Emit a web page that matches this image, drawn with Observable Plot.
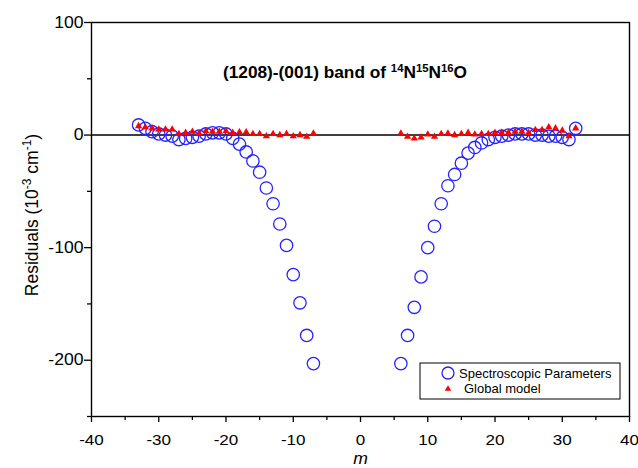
<!DOCTYPE html>
<html>
<head>
<meta charset="utf-8">
<script src="https://cdn.jsdelivr.net/npm/d3@7"></script>
<script src="https://cdn.jsdelivr.net/npm/@observablehq/plot@0.6"></script>
<style>
  html, body { margin: 0; padding: 0; background: #fff; }
  #chart { width: 638px; height: 468px; }
</style>
</head>
<body>
<div id="chart"></div>
<script>
// ---- data ----
const specLeftM = [-33,-32,-31,-30,-29,-28,-27,-26,-25,-24,-23,-22,-21,-20,-19,-18,-17,-16,-15,-14,-13,-12,-11,-10,-9,-8,-7];
const specLeftR = [9,6,3,1,0,-1,-4,-3,-2,-1,1,2,2,1,-3,-8,-15,-23,-33,-47,-61,-79,-98,-124,-149,-178,-203];
const specRightM = [6,7,8,9,10,11,12,13,14,15,16,17,18,19,20,21,22,23,24,25,26,27,28,29,30,31,32];
const specRightR = [-203,-178,-153,-126,-100,-81,-61,-45,-35,-25,-16,-11,-7,-4,-2,-1,0,1,1,1,0,0,-1,-1,-2,-4,6];
const globLeftM = specLeftM;
const globLeftR = [8,7,6,5,5,5,1,2,3,1.5,3.5,3,3,3.5,2,2.5,2.5,1,1,-1,1,0,1,-1,0,-1.5,1.5];
const globRightM = specRightM;
const globRightR = [1.5,-1.5,-3,-2,0.5,-1.5,1,1.5,0,1,2,0.5,1,1,2,2,2,3,3,2,4.5,4.5,7,6,4,-1,6];

const xMajor = [-40,-30,-20,-10,0,10,20,30,40];
const xMinor = [-35,-25,-15,-5,5,15,25,35];
const yMajor = [-200,-100,0,100];
const yMinor = [-250,-150,-50,50];

const seriesNames = ["Spectroscopic Parameters", "Global model"];

// ---- tables ----
const spec = specLeftM.map((m,i)=>({m, r: specLeftR[i]}))
  .concat(specRightM.map((m,i)=>({m, r: specRightR[i]})));
const glob = globLeftM.map((m,i)=>({m, r: globLeftR[i]}))
  .concat(globRightM.map((m,i)=>({m, r: globRightR[i]})));

const W = 638, H = 468, ML = 91, MR = 9, MT = 22, MB = 52;
const blue = "#2424ff", red = "#ff0000";
const font = "'Liberation Sans', Arial, sans-serif";
const SX = 1.1; // horizontal stretch of the reference's lettering

const plot = Plot.plot({
  width: W, height: H,
  marginLeft: ML, marginRight: MR, marginTop: MT, marginBottom: MB,
  x: {domain: [-40, 40]},
  y: {domain: [-250, 100]},
  style: {fontFamily: font, fontSize: "15px", color: "black", background: "white"},
  marks: [
    Plot.ruleY([0], {stroke: "black", strokeWidth: 1.5}),
    Plot.axisX(xMajor, {tickSize: 6, tickPadding: 11, label: null, tickFormat: d => String(d), fontSize: 15.5, strokeWidth: 1.3}),
    Plot.axisX(xMinor, {tickSize: 4, label: null, tickFormat: () => "", strokeWidth: 1.3}),
    Plot.axisY(yMajor, {tickSize: 7, tickPadding: 1, label: null, tickFormat: d => String(d), fontSize: 16, strokeWidth: 1.3}),
    Plot.axisY(yMinor, {tickSize: 4, label: null, tickFormat: () => "", strokeWidth: 1.3}),
    Plot.frame({stroke: "black", strokeWidth: 1.4}),
    Plot.dot(spec, {x: "m", y: "r", r: 6.2, stroke: blue, fill: "none", strokeWidth: 1.3}),
    Plot.dot(glob, {x: "m", y: "r", symbol: "triangle", r: 2.7, fill: red, stroke: "none"}),
    Plot.text(["m"], {frameAnchor: "bottom", dy: 47, lineAnchor: "bottom", fontSize: 16, fontStyle: "italic"})
  ]
});
document.getElementById("chart").appendChild(plot);

const svg = d3.select(plot);

// stretch Plot's own lettering horizontally about each text's anchor
svg.selectAll("text").each(function() {
  const t = this.getAttribute("transform");
  if (t && /translate/.test(t)) this.setAttribute("transform", t + ` scale(${SX},1)`);
});

// title
const title = svg.append("text")
  .attr("transform", `translate(345,78) scale(1.08,1)`)
  .attr("text-anchor", "middle")
  .attr("font-family", font).attr("font-size", 16).attr("font-weight", "bold")
  .attr("fill", "black");
title.append("tspan").text("(1208)-(001) band of ");
[["14","N"],["15","N"],["16","O"]].forEach(([s, el]) => {
  title.append("tspan").attr("font-size", 10.5).attr("dy", -6).text(s);
  title.append("tspan").attr("dy", 6).text(el);
});

// y label
const yl = svg.append("text")
  .attr("transform", `translate(38,215) rotate(-90)`)
  .attr("text-anchor", "middle")
  .attr("font-family", font).attr("font-size", 17.5).attr("fill", "black");
yl.append("tspan").text("Residuals (10");
yl.append("tspan").attr("font-size", 12).attr("dy", -7).text("-3");
yl.append("tspan").attr("dy", 7).text(" cm");
yl.append("tspan").attr("font-size", 12).attr("dy", -7).text("-1");
yl.append("tspan").attr("dy", 7).text(")");

// legend
const lg = svg.append("g").attr("text-anchor", "start");
lg.append("rect").attr("x", 420).attr("y", 363).attr("width", 200).attr("height", 36)
  .attr("fill", "white").attr("stroke", "black").attr("stroke-width", 1);
lg.append("circle").attr("cx", 448).attr("cy", 373).attr("r", 6)
  .attr("fill", "none").attr("stroke", blue).attr("stroke-width", 1.3);
lg.append("path").attr("transform", "translate(448,389)")
  .attr("d", d3.symbol(d3.symbolTriangle, Math.PI * 2.4 * 2.4)()).attr("fill", red);
lg.append("text").attr("x", 459).attr("y", 378).attr("font-family", font).attr("font-size", 13)
  .attr("text-anchor", "start").attr("fill", "black").text(seriesNames[0]);
lg.append("text").attr("x", 464).attr("y", 393).attr("font-family", font).attr("font-size", 13)
  .attr("text-anchor", "start").attr("fill", "black").text(seriesNames[1]);
</script>
</body>
</html>
